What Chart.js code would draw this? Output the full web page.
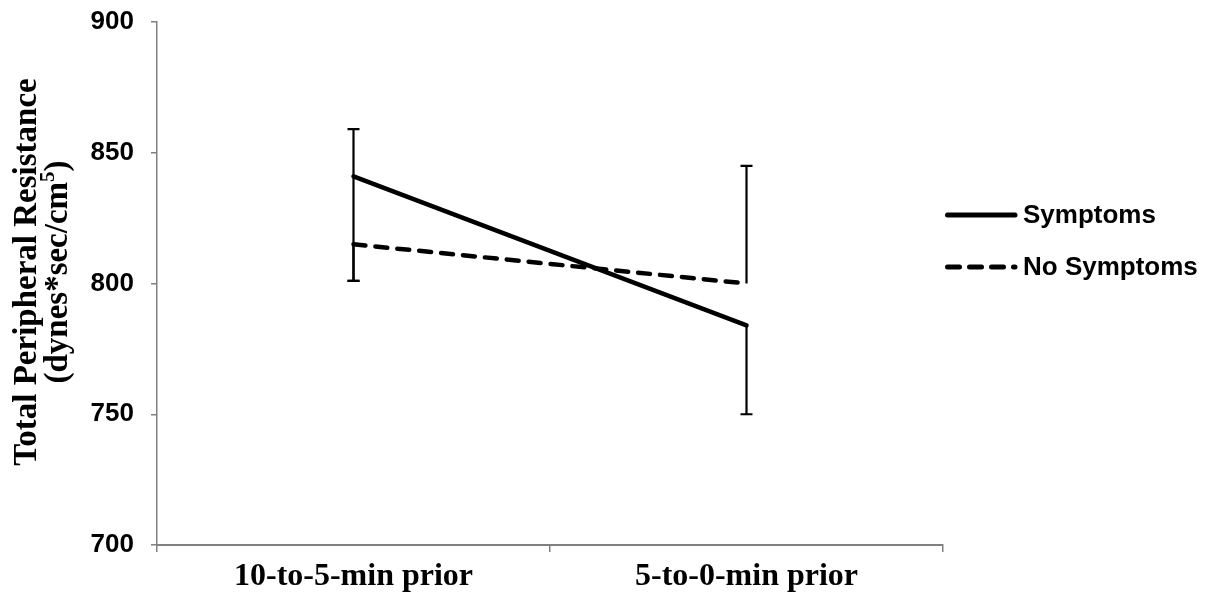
<!DOCTYPE html>
<html>
<head>
<meta charset="utf-8">
<script src="https://cdn.jsdelivr.net/npm/chart.js@4/dist/chart.umd.min.js"></script>
<style>
  body { margin: 0; background: #fff; }
  #wrap { width: 1211px; height: 604px; position: relative; }
</style>
</head>
<body>
<div id="wrap"><canvas id="chart"></canvas></div>
<script>
// Data
const categories = ['10-to-5-min prior', '5-to-0-min prior'];
const symptoms = [841, 784];
const noSymptoms = [815, 800];
// error bars (plus / minus), as seen on the chart
const symptomsErrPlus = [18, 0];
const symptomsErrMinus = [40, 34];
const noSymptomsErrPlus = [0, 45];
const noSymptomsErrMinus = [14, 0];
const yTicks = [700, 750, 800, 850, 900];

const serif = "'Liberation Serif', 'Times New Roman', serif";
const sans = "'Liberation Sans', Arial, sans-serif";
const axisGray = '#808080';

// Draws the error bars from the dataset's own values through the scales
const errorBars = {
  id: 'errorBars',
  beforeDatasetsDraw(chart) {
    const ctx = chart.ctx;
    const x = chart.scales.x, y = chart.scales.y;
    ctx.save();
    ctx.strokeStyle = '#000';
    ctx.lineWidth = 2.2;
    ctx.setLineDash([]);
    chart.data.datasets.forEach(function(ds) {
      ds.data.forEach(function(v, i) {
        const plus = ds.errPlus[i], minus = ds.errMinus[i];
        if (!plus && !minus) return;
        const px = x.getPixelForValue(i);
        const top = y.getPixelForValue(v + plus);
        const bot = y.getPixelForValue(v - minus);
        ctx.beginPath();
        ctx.moveTo(px, top); ctx.lineTo(px, bot);
        if (plus) { ctx.moveTo(px - 6, top); ctx.lineTo(px + 6, top); }
        if (minus) { ctx.moveTo(px - 6, bot); ctx.lineTo(px + 6, bot); }
        ctx.stroke();
      });
    });
    ctx.restore();
  }
};

// Y title with superscript, plus legend on the right
const extras = {
  id: 'extras',
  afterDraw(chart) {
    const ctx = chart.ctx;
    ctx.save();
    // y axis title
    ctx.translate(0, 272);
    ctx.rotate(-Math.PI / 2);
    ctx.fillStyle = '#000';
    ctx.textAlign = 'center';
    ctx.textBaseline = 'alphabetic';
    ctx.font = 'bold 33px ' + serif;
    ctx.fillText('Total Peripheral Resistance', 0, 36);
    const main = '(dynes*sec/cm';
    const sup = '5';
    const close = ')';
    const wMain = ctx.measureText(main).width;
    const wClose = ctx.measureText(close).width;
    ctx.font = 'bold 21px ' + serif;
    const wSup = ctx.measureText(sup).width;
    let start = -(wMain + wSup + wClose) / 2;
    ctx.textAlign = 'left';
    ctx.font = 'bold 33px ' + serif;
    ctx.fillText(main, start, 67);
    ctx.font = 'bold 21px ' + serif;
    ctx.fillText(sup, start + wMain, 54);
    ctx.font = 'bold 33px ' + serif;
    ctx.fillText(close, start + wMain + wSup, 67);
    ctx.restore();

    // legend
    ctx.save();
    const items = chart.data.datasets;
    const ys = [215, 267];
    items.forEach(function(ds, i) {
      ctx.beginPath();
      ctx.strokeStyle = '#000';
      ctx.lineWidth = 5;
      ctx.lineCap = 'round';
      ctx.setLineDash(ds.borderDash || []);
      ctx.moveTo(947.5, ys[i]);
      ctx.lineTo(1015, ys[i]);
      ctx.stroke();
      ctx.setLineDash([]);
      ctx.fillStyle = '#000';
      ctx.font = 'bold 26px ' + sans;
      ctx.textBaseline = 'middle';
      ctx.textAlign = 'left';
      ctx.fillText(ds.label, 1023, ys[i] + 1);
    });
    ctx.restore();
  }
};

new Chart(document.getElementById('chart'), {
  type: 'line',
  data: {
    labels: categories,
    datasets: [
      {
        label: 'Symptoms',
        data: symptoms,
        errPlus: symptomsErrPlus,
        errMinus: symptomsErrMinus,
        borderColor: '#000',
        borderWidth: 4.5,
        borderCapStyle: 'round',
        pointRadius: 0,
        tension: 0
      },
      {
        label: 'No Symptoms',
        data: noSymptoms,
        errPlus: noSymptomsErrPlus,
        errMinus: noSymptomsErrMinus,
        borderColor: '#000',
        borderWidth: 4.5,
        borderDash: [12, 10],
        borderCapStyle: 'round',
        pointRadius: 0,
        tension: 0
      }
    ]
  },
  options: {
    responsive: true,
    maintainAspectRatio: false,
    animation: false,
    layout: { padding: { top: 22, right: 268, left: 0, bottom: 0 } },
    plugins: {
      legend: { display: false },
      tooltip: { enabled: false }
    },
    scales: {
      x: {
        type: 'category',
        offset: true,
        grid: { offset: true, drawOnChartArea: false, tickLength: 7, color: axisGray, lineWidth: 1.5 },
        border: { color: axisGray, width: 2 },
        ticks: {
          color: '#000',
          padding: 6,
          font: { family: serif, size: 32, weight: 'bold' }
        },
        afterFit(scale) { scale.height = 59; scale.paddingLeft = 0; scale.paddingRight = 0; }
      },
      y: {
        min: 700,
        max: 900,
        afterBuildTicks(scale) { scale.ticks = yTicks.map(function(v) { return { value: v }; }); },
        grid: { drawOnChartArea: false, tickLength: 6, color: axisGray, lineWidth: 1.5 },
        border: { color: axisGray, width: 1.5 },
        ticks: {
          color: '#000',
          padding: 17,
          font: { family: sans, size: 26, weight: 'bold' }
        },
        afterFit(scale) { scale.width = 157; scale.paddingTop = 0; scale.paddingBottom = 0; }
      }
    }
  },
  plugins: [errorBars, extras]
});
</script>
</body>
</html>
